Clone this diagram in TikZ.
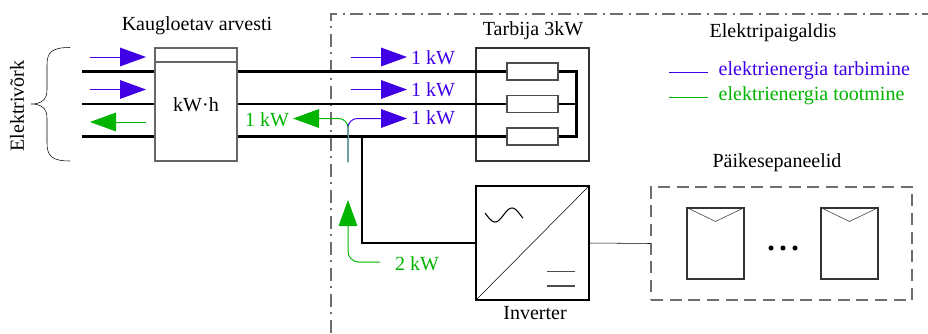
\documentclass[tikz,border=0pt]{standalone}
\usepackage{fontspec}
\setmainfont{Liberation Serif}
\usetikzlibrary{arrows.meta,calc}
\definecolor{tarbimine}{RGB}{64,0,230}
\definecolor{tootmine}{RGB}{0,180,0}
\definecolor{segu}{RGB}{95,165,140}
\definecolor{raam}{RGB}{110,110,110}
\tikzset{
  box/.style 2 args={draw=black!80, line width=0.8pt, minimum width=#1, minimum height=#2, inner sep=0pt},
  bus/.style={line width=2.2pt},
  tarb/.style={tarbimine, line width=0.75pt, -{Triangle[length=19.5pt,width=14pt]}},
  toot/.style={tootmine, line width=0.75pt, -{Triangle[length=19.5pt,width=14pt]}},
}

\begin{document}
\begin{tikzpicture}[x=0.75pt, y=-0.75pt, font=\fontsize{15}{18}\selectfont]
			%%%%% START %%%%%
			\useasboundingbox (0,0) rectangle (928,333);
			
			\draw[raam, line width=1.1pt, dash pattern=on 10pt off 4pt on 1.5pt off 4pt] (331,333) |- (928,14);
			\node (paigaldis) at (773,33) {Elektripaigaldis};
			
			\node[rotate=90] (vork) at (17,106) {Elektrivõrk};
			\draw (70,47.5) .. controls (52,47.5) and (47,52) .. (47,65) -- (47,90) .. controls (47,100) and (41,104) .. (31,104) .. controls (41,104) and (47,108) .. (47,118) -- (47,143) .. controls (47,156) and (52,161) .. (70,161);
			
			\node[box={61.5pt}{84.75pt}, draw=black!60] (arvesti) at (196,104.5) {kW·h};
			\draw[black!60, line width=0.8pt] ($(arvesti.north west)+(0,14.5)$) -- ($(arvesti.north east)+(0,14.5)$);
			\node (arvestiT) at (197,26) {Kaugloetav arvesti};
			
			\node[box={84.75pt}{84.75pt}] (tarbija) at (532.5,104.5) {};
			\node (tarbijaT) at (533,31) {Tarbija 3kW};
			\foreach \i/\y in {1/71.5,2/104,3/136.5}{
				\node[box={38.25pt}{12.75pt}, draw=black!70] (r\i) at (532.5,\y) {};
				\draw[bus] (82,\y) -- (arvesti.west |- r\i);
				\draw[bus] (arvesti.east |- r\i) -- (r\i.west);
			}
			\draw[bus] (r1.east) -- ++(18,0) |- (r3.east);
			\draw[bus] (r2.east) -- ++(18,0);
			
			\node[box={84.75pt}{85.5pt}, draw=black] (inverter) at (532.5,243) {};
			\draw (inverter.south west) -- (inverter.north east);
			\draw[line width=0.8pt] plot[domain=485:523, samples=40] (\x, {215+7*sin(10.6*(\x-495)+90)});
			\draw[black!70, line width=0.8pt] (546.7,271.5) -- (575,271.5);
			\draw[black!70, line width=0.8pt] (546.7,286) -- (575,286);
			\node (inverterT) at (535,313) {Inverter};
			
			\coordinate (haru) at (362,136.5);
			\draw[bus] (haru) |- (inverter.west);
			
			\node[box={195.75pt}{84.75pt}, draw=raam, dash pattern=on 9pt off 5pt] (pv) at (781.5,243.5) {};
			\node (pvT) at (777,163) {Päikesepaneelid};
			\foreach \i/\x in {1/715.5,2/849.5}{
				\node[box={42.75pt}{53.25pt}] (p\i) at (\x,243.5) {};
				\draw[black!80] (p\i.north west) -- ($(p\i.north)+(0,14)$) -- (p\i.north east);
			}
			\foreach \x in {771,783,795}
				\fill (\x,248) circle (1.9pt);
			\draw (inverter.east) -- (pv.west);
			
			\draw[tarb] (90,57) -- (146,57);
			\draw[tarb] (90,89.5) -- (146,89.5);
			\draw[toot] (146,122) -- (90,122);
			\draw[tarb] (351,57) -- (407,57);
			\draw[tarb] (351,89.5) -- (407,89.5);
			\node[text=tarbimine] (kw1) at (433,58) {1 kW};
			\node[text=tarbimine] (kw2) at (433,90) {1 kW};
			\node[text=tarbimine] (kw3) at (433,118) {1 kW};
			\node[text=tootmine] (kwV) at (267,120) {1 kW};
			
			\coordinate (jagu) at (348,162);
			\draw[toot, rounded corners=7] (jagu) |- (293,118.5);
			\draw[tarb, rounded corners=7] (jagu) |- (407,118.5);
			\draw[segu, line width=0.75pt] (jagu) -- ++(0,-36);
			\draw[toot, rounded corners=8] (380,262) -| (348,200);
			\node[text=tootmine] (kwP) at (417,264) {2 kW};
			
			\draw[tarbimine, line width=0.75pt] (669,72) -- (708,72);
			\draw[tootmine, line width=0.75pt] (669,97) -- (708,97);
			\node[anchor=west, text=tarbimine] (leg1) at (714,71) {elektrienergia tarbimine};
			\node[anchor=west, text=tootmine] (leg2) at (714,96) {elektrienergia tootmine};
			%%%%% END %%%%%
		\end{tikzpicture}
\end{document}
